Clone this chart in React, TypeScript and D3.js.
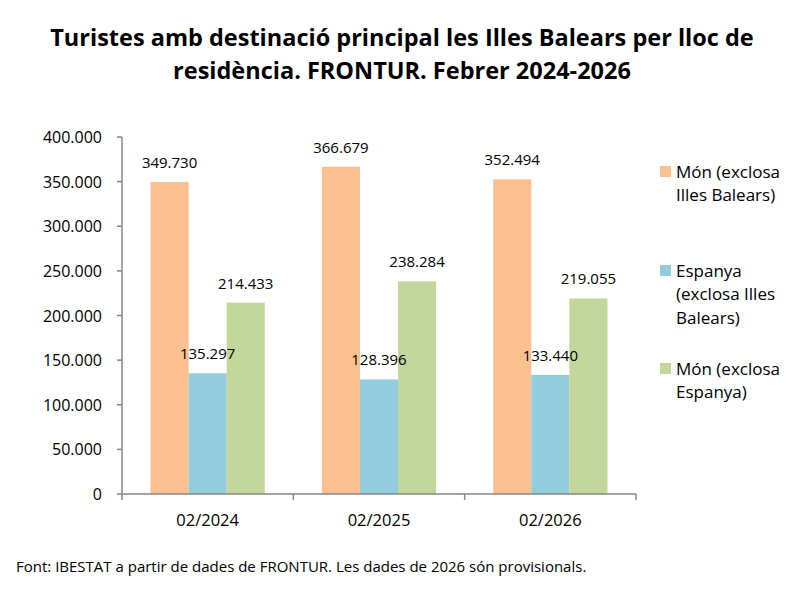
import React from "react";
import * as d3 from "d3";

const categories = ["02/2024", "02/2025", "02/2026"];
const seriesNames = [
  ["Món (exclosa", "Illes Balears)"],
  ["Espanya", "(exclosa Illes", "Balears)"],
  ["Món (exclosa", "Espanya)"],
];
const monExclosaIB = [349730, 366679, 352494];
const espanya = [135297, 128396, 133440];
const monExclosaEsp = [214433, 238284, 219055];
const yTicks = [0, 50000, 100000, 150000, 200000, 250000, 300000, 350000, 400000];
const colors = ["#FAC090", "#93CDDD", "#C3D69B"];

const W = 808;
const H = 607;
const FONT = "'Open Sans', 'Noto Sans', sans-serif";

const fmt = (v: number) =>
  v === 0 ? "0" : d3.format(",")(v).replace(/,/g, ".");

export default function App() {
  const series = [monExclosaIB, espanya, monExclosaEsp];
  const left = 122;
  const right = 636;
  const top = 137;
  const bottom = 494;

  const x = d3.scaleBand<string>().domain(categories).range([left, right]).paddingInner(0).paddingOuter(0);
  const inner = d3
    .scaleBand<number>()
    .domain([0, 1, 2])
    .range([0, x.bandwidth()])
    .paddingInner(0)
    .paddingOuter(0.75);
  const y = d3.scaleLinear().domain([0, 400000]).range([bottom, top]);

  const legendY = [172, 271, 369];
  const axisColor = "#868686";

  return (
    <svg width={W} height={H} style={{ position: "absolute", left: 0, top: 0 }} fontFamily={FONT}>
      <rect width={W} height={H} fill="#fff" />
      <text x={402} y={46} textAnchor="middle" fontSize={23.5} fontWeight="bold" fill="#000">
        Turistes amb destinació principal les Illes Balears per lloc de
      </text>
      <text x={402} y={79} textAnchor="middle" fontSize={23.5} fontWeight="bold" fill="#000">
        residència. FRONTUR. Febrer 2024-2026
      </text>

      {/* bars */}
      {series.map((vals, si) =>
        vals.map((v, ci) => {
          const bx = (x(categories[ci]) as number) + (inner(si) as number);
          return (
            <rect
              key={`b${si}-${ci}`}
              x={bx}
              y={y(v)}
              width={inner.bandwidth()}
              height={bottom - y(v)}
              fill={colors[si]}
            />
          );
        })
      )}

      {/* value labels */}
      {series.map((vals, si) =>
        vals.map((v, ci) => {
          const cx = (x(categories[ci]) as number) + (inner(si) as number) + inner.bandwidth() / 2;
          return (
            <text
              key={`l${si}-${ci}`}
              x={cx}
              y={y(v) - 14}
              textAnchor="middle"
              fontSize={15}
              fill="#000"
            >
              {fmt(v)}
            </text>
          );
        })
      )}

      {/* y axis */}
      <line x1={left} x2={left} y1={top} y2={bottom} stroke={axisColor} strokeWidth={1.5} />
      {yTicks.map((t) => (
        <g key={`yt${t}`}>
          <line x1={left - 5} x2={left} y1={y(t)} y2={y(t)} stroke={axisColor} strokeWidth={1.5} />
          <text x={left - 20} y={y(t) + 6} textAnchor="end" fontSize={16} fill="#000">
            {fmt(t)}
          </text>
        </g>
      ))}

      {/* x axis */}
      <line x1={left} x2={right} y1={bottom} y2={bottom} stroke={axisColor} strokeWidth={1.5} />
      {[...categories.map((c) => x(c) as number), right].map((tx, i) => (
        <line key={`xt${i}`} x1={tx} x2={tx} y1={bottom} y2={bottom + 6} stroke={axisColor} strokeWidth={1.5} />
      ))}
      {categories.map((c) => (
        <text
          key={`xl${c}`}
          x={(x(c) as number) + x.bandwidth() / 2}
          y={526}
          textAnchor="middle"
          fontSize={16.5}
          fill="#000"
        >
          {c}
        </text>
      ))}

      {/* legend */}
      {seriesNames.map((lines, si) => (
        <g key={`lg${si}`}>
          <rect x={660} y={legendY[si] - 6} width={11} height={11} fill={colors[si]} />
          {lines.map((ln, li) => (
            <text key={li} x={676} y={legendY[si] + 6 + li * 23.4} fontSize={17} fill="#000">
              {ln}
            </text>
          ))}
        </g>
      ))}

      <text x={16} y={572} fontSize={15} fill="#000">
        Font: IBESTAT a partir de dades de FRONTUR. Les dades de 2026 són provisionals.
      </text>
    </svg>
  );
}
